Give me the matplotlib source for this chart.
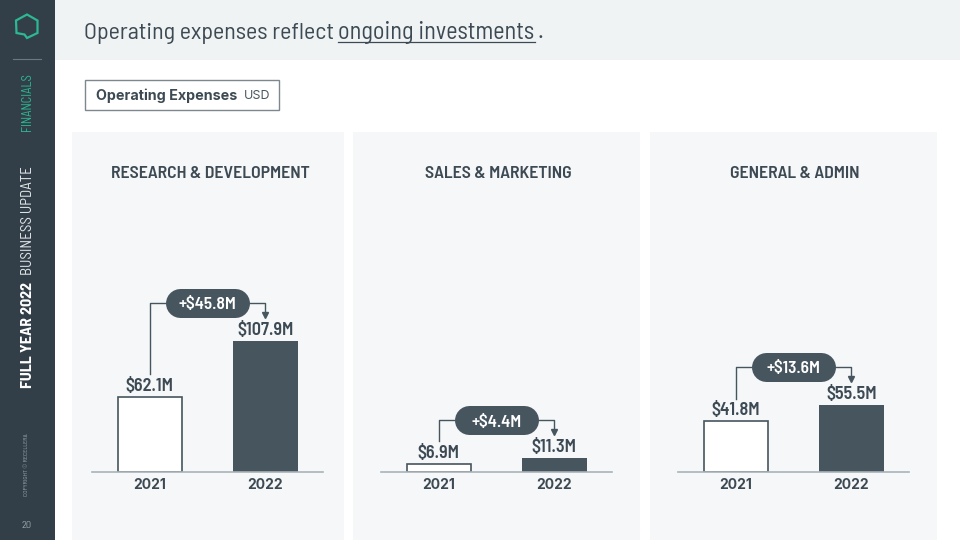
import logging
import matplotlib
matplotlib.use('Agg')
import matplotlib.pyplot as plt
from matplotlib.patches import Rectangle, Polygon

logging.getLogger('matplotlib.font_manager').setLevel(logging.ERROR)

years = ['2021', '2022']
panel_titles = ['RESEARCH & DEVELOPMENT', 'SALES & MARKETING', 'GENERAL & ADMIN']
rd_values = [62.1, 107.9]
sm_values = [6.9, 11.3]
ga_values = [41.8, 55.5]
changes = ['+$45.8M', '+$4.4M', '+$13.6M']

DARK = '#47555f'
SIDE = '#323f48'
GREEN = '#2cb892'
PANEL = '#f5f7f9'
BASE = '#a9b3b8'
INK = '#3d4a53'
PX_PER_UNIT = 131 / 107.9

NARROW = ['Barlow Semi Condensed', 'Roboto']
WIDE = ['Inter', 'DejaVu Sans']

fig = plt.figure(figsize=(9.6, 5.4), dpi=100, facecolor='white')

# page furniture, in pixel coordinates
page = fig.add_axes([0, 0, 1, 1])
page.set_xlim(0, 960)
page.set_ylim(540, 0)
page.axis('off')
page.add_patch(Rectangle((55, 0), 905, 60, color='#eff3f4', lw=0))
page.add_patch(Rectangle((0, 0), 55, 540, color=SIDE, lw=0))
page.add_patch(Polygon([(27, 14.5), (37.5, 20.5), (37.5, 33), (27, 38), (24.5, 34.5), (16.5, 33), (16, 20.5)],
                       closed=True, fill=False, ec=GREEN, lw=1.6))
page.plot([13, 41], [58.5, 58.5], color='#6b7780', lw=0.8)

page.text(84, 33, 'Operating expenses reflect', family=NARROW, fontsize=17.3, color=INK, va='center')
page.text(338, 33, 'ongoing investments', family=NARROW, fontsize=17.4, color=INK, va='center')
page.text(537.5, 33, '.', family=NARROW, fontsize=17.3, color=INK, va='center')
page.plot([338, 535], [42, 42], color=INK, lw=0.9)

page.add_patch(Rectangle((85, 79.5), 194, 30, fc='white', ec='#7c878e', lw=1))
page.text(96, 96, 'Operating Expenses', family=WIDE, weight='bold', fontsize=10.3, color=INK, va='center')
page.text(244, 96, 'USD', family=WIDE, fontsize=9, color='#4a565e', va='center')

page.text(27, 102.5, 'FINANCIALS', family=NARROW, fontsize=9, color=GREEN, rotation=90, ha='center', va='center')
page.text(28, 388, 'FULL YEAR 2022', family=NARROW, weight='bold', fontsize=11.5, color='white',
          rotation=90, ha='center', va='bottom')
page.text(28, 275, 'BUSINESS UPDATE', family=NARROW, fontsize=10.8, color='#dfe4e6',
          rotation=90, ha='center', va='bottom')
page.text(27, 465, 'COPYRIGHT © RECELLERA', family=NARROW, fontsize=4.4, color='#9aa4a9',
          rotation=90, ha='center', va='center')
page.text(27, 525, '20', family=NARROW, fontsize=7.5, color='#9aa4a9', ha='center', va='center')

# panels: background x0, x1, axis left
panels = [(72, 344, 92), (353, 640, 381), (650, 937, 678)]
all_values = [rd_values, sm_values, ga_values]

for (x0, x1, left), title, values, change in zip(panels, panel_titles, all_values, changes):
    page.add_patch(Rectangle((x0, 132), x1 - x0, 408, color=PANEL, lw=0))
    page.text(left + 118 if x0 == 72 else left + 117, 174, title, family=NARROW, weight='semibold', fontsize=12.8,
              color=INK, ha='center', va='center')

    ax = fig.add_axes([left / 960, (540 - 472) / 540, 231 / 960, 340 / 540])
    ax.patch.set_alpha(0)
    ax.set_xlim(-0.5, 1.5)
    ax.set_ylim(0, 340 / PX_PER_UNIT)
    ax.bar(0, values[0], width=0.55, fc='white', ec=DARK, lw=1.2, zorder=2)
    ax.bar(1, values[1], width=0.56, color=DARK, zorder=2)

    for s in ['top', 'left', 'right']:
        ax.spines[s].set_visible(False)
    ax.spines['bottom'].set_color(BASE)
    ax.spines['bottom'].set_linewidth(1.2)
    ax.set_yticks([])
    ax.set_xticks([0, 1])
    ax.set_xticklabels(years, family=WIDE, weight='bold', fontsize=10, color=INK)
    ax.tick_params(axis='x', length=0, pad=4)

    for i, v in enumerate(values):
        ax.annotate('${}M'.format(v), (i, v), xytext=(0, 1.5), textcoords='offset points', ha='center', va='bottom',
                    family=NARROW, weight='semibold', fontsize=13, color=INK)

    # connector from first label up to the pill and down to second label
    pill_y = values[1] + 38 / PX_PER_UNIT
    ax.plot([0, 0, 1, 1], [values[0] + 22.5 / PX_PER_UNIT, pill_y, pill_y, values[1] + 25 / PX_PER_UNIT],
            color=DARK, lw=1, clip_on=False, zorder=3)
    ax.plot([1], [values[1] + 26 / PX_PER_UNIT], marker='v', ms=5, color=DARK, clip_on=False, zorder=3)
    ax.plot([0.262, 0.738], [pill_y, pill_y], color=DARK, lw=29 * 0.72, solid_capstyle='round',
            clip_on=False, zorder=4)
    ax.text(0.5, pill_y - 2 / PX_PER_UNIT, change, family=NARROW, weight='semibold', fontsize=12.5, color='white',
            ha='center', va='center', zorder=5)

fig.savefig('out.png', dpi=100)
